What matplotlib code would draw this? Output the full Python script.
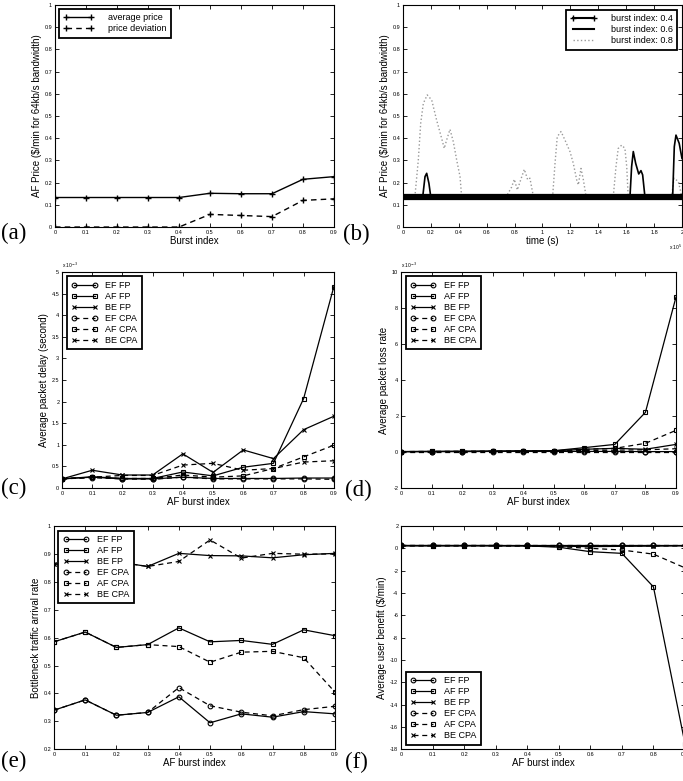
import matplotlib
matplotlib.use('Agg')
import matplotlib.pyplot as plt
from matplotlib.lines import Line2D
from matplotlib.ticker import MultipleLocator, FuncFormatter

plt.rcParams['font.family'] = ['Liberation Sans', 'DejaVu Sans']

# AF burst index (x axis of a, c, d, e, f)
burst = [0, 0.1, 0.2, 0.3, 0.4, 0.5, 0.6, 0.7, 0.8, 0.9]

# (a) AF price
avg_price = [0.133, 0.133, 0.133, 0.133, 0.133, 0.152, 0.150, 0.150, 0.215, 0.227]
price_dev = [0, 0, 0, 0, 0, 0.057, 0.052, 0.047, 0.120, 0.127]

# (b) AF price over time (time in units of 1e5 s)
t_04 = [0, 2.0]
p_04 = [0.135, 0.135]
t_06 = [0, 0.141, 0.158, 0.170, 0.186, 0.200, 1.627, 1.639, 1.651, 1.668, 1.690, 1.706,
        1.718, 1.735, 1.933, 1.945, 1.957, 1.980, 2.0]
p_06 = [0.133, 0.133, 0.227, 0.242, 0.197, 0.133, 0.133, 0.272, 0.340, 0.287, 0.239, 0.254,
        0.235, 0.133, 0.133, 0.362, 0.414, 0.377, 0.309]
t_08 = [0, 0.086, 0.110, 0.127, 0.146, 0.174, 0.206, 0.241, 0.277, 0.296, 0.313, 0.337,
        0.361, 0.385, 0.409, 0.420,
        0.743, 0.779, 0.798, 0.820, 0.844, 0.870, 0.894, 0.910, 0.934,
        1.073, 1.090, 1.106, 1.133, 1.161, 1.197, 1.221, 1.245, 1.257, 1.276, 1.293, 1.312,
        1.508, 1.527, 1.543, 1.568, 1.591, 1.604, 1.614,
        1.926, 1.943, 1.974, 1.998]
p_08 = [0.133, 0.14, 0.302, 0.467, 0.557, 0.595, 0.572, 0.482, 0.400, 0.354, 0.392, 0.440,
        0.384, 0.302, 0.227, 0.14,
        0.14, 0.180, 0.215, 0.167, 0.213, 0.260, 0.213, 0.220, 0.14,
        0.14, 0.287, 0.407, 0.430, 0.392, 0.340, 0.287, 0.213, 0.190, 0.264, 0.213, 0.14,
        0.14, 0.272, 0.354, 0.369, 0.354, 0.272, 0.14,
        0.14, 0.220, 0.205, 0.14]

# (c) average packet delay (x 1e-3 s)
delay_ef_fp = [0.21, 0.25, 0.21, 0.21, 0.25, 0.22, 0.22, 0.22, 0.23, 0.23]
delay_af_fp = [0.21, 0.26, 0.22, 0.22, 0.37, 0.28, 0.48, 0.57, 2.07, 4.66]
delay_be_fp = [0.21, 0.41, 0.30, 0.30, 0.79, 0.36, 0.88, 0.68, 1.35, 1.66]
delay_ef_cpa = [0.21, 0.24, 0.21, 0.20, 0.25, 0.21, 0.21, 0.21, 0.21, 0.20]
delay_af_cpa = [0.21, 0.25, 0.22, 0.22, 0.30, 0.25, 0.28, 0.45, 0.72, 0.99]
delay_be_cpa = [0.21, 0.25, 0.29, 0.29, 0.53, 0.57, 0.41, 0.45, 0.60, 0.63]

# (d) average packet loss rate (x 1e-3)
loss_ef_fp = [0.02, 0.02, 0.02, 0.03, 0.03, 0.03, 0.03, 0.03, 0.02, 0.02]
loss_af_fp = [0.02, 0.03, 0.04, 0.05, 0.06, 0.07, 0.24, 0.42, 2.20, 8.60]
loss_be_fp = [0.02, 0.03, 0.03, 0.04, 0.05, 0.06, 0.15, 0.20, 0.15, 0.42]
loss_ef_cpa = [0.02, 0.02, 0.02, 0.02, 0.02, 0.02, 0.02, 0.02, 0.02, 0.02]
loss_af_cpa = [0.02, 0.03, 0.03, 0.04, 0.05, 0.06, 0.15, 0.20, 0.48, 1.20]
loss_be_cpa = [0.02, 0.02, 0.03, 0.03, 0.04, 0.05, 0.08, 0.10, 0.12, 0.18]

# (e) bottleneck traffic arrival rate
rate_ef_fp = [0.340, 0.377, 0.322, 0.332, 0.388, 0.295, 0.327, 0.315, 0.335, 0.327]
rate_af_fp = [0.585, 0.620, 0.565, 0.575, 0.635, 0.585, 0.590, 0.576, 0.628, 0.607]
rate_be_fp = [0.863, 0.870, 0.872, 0.855, 0.902, 0.894, 0.893, 0.886, 0.897, 0.902]
rate_ef_cpa = [0.340, 0.377, 0.322, 0.332, 0.421, 0.356, 0.333, 0.320, 0.342, 0.354]
rate_af_cpa = [0.585, 0.620, 0.565, 0.575, 0.568, 0.512, 0.548, 0.551, 0.528, 0.405]
rate_be_cpa = [0.863, 0.870, 0.872, 0.855, 0.873, 0.950, 0.885, 0.902, 0.899, 0.900]

# (f) average user benefit ($/min)
ben_ef_fp = [0.30, 0.30, 0.30, 0.30, 0.30, 0.30, 0.30, 0.30, 0.30, 0.30]
ben_af_fp = [0.25, 0.25, 0.25, 0.25, 0.22, 0.10, -0.30, -0.45, -3.45, -17.5]
ben_be_fp = [0.22, 0.22, 0.22, 0.22, 0.22, 0.20, 0.15, 0.18, 0.20, 0.22]
ben_ef_cpa = [0.30, 0.30, 0.30, 0.30, 0.30, 0.30, 0.30, 0.30, 0.30, 0.30]
ben_af_cpa = [0.25, 0.25, 0.25, 0.25, 0.22, 0.15, 0.00, -0.15, -0.52, -1.75]
ben_be_cpa = [0.22, 0.22, 0.22, 0.22, 0.22, 0.20, 0.18, 0.20, 0.22, 0.22]

six_names = ['EF FP', 'AF FP', 'BE FP', 'EF CPA', 'AF CPA', 'BE CPA']
six_marks = ['o', 's', 'x', 'o', 's', 'x']
six_styles = ['-', '-', '-', '--', '--', '--']

fmt = FuncFormatter(lambda v, p: '%g' % round(v, 6))


def style_axes(ax, xlim, ylim, xstep, ystep):
    ax.set_xlim(*xlim)
    ax.set_ylim(*ylim)
    ax.xaxis.set_major_locator(MultipleLocator(xstep))
    ax.yaxis.set_major_locator(MultipleLocator(ystep))
    ax.xaxis.set_major_formatter(fmt)
    ax.yaxis.set_major_formatter(fmt)
    ax.tick_params(direction='in', top=True, right=True, length=3, width=0.6,
                   labelsize=4, pad=2)
    for s in ax.spines.values():
        s.set_linewidth(0.8)


def legend_box(ax, handles=None, **kw):
    opts = dict(fontsize=6.5, numpoints=2, handlelength=2.9, handletextpad=0.9,
                labelspacing=0.22, fancybox=False, framealpha=1,
                edgecolor='black', borderpad=0.5)
    opts.update(kw)
    if handles is None:
        leg = ax.legend(**opts)
    else:
        leg = ax.legend(handles=handles, **opts)
    leg.get_frame().set_linewidth(1.3)
    return leg


def six_lines(ax, series):
    for vals, name, m, ls in zip(series, six_names, six_marks, six_styles):
        ax.plot(burst, vals, linestyle=ls, marker=m, color='black', lw=0.9,
                markersize=3.4, markerfacecolor='none', markeredgewidth=0.8,
                dashes=(4, 3) if ls == '--' else (None, None), label=name)


fig = plt.figure(figsize=(6.83, 7.81), dpi=100)

# (a)
ax = fig.add_axes([0.0805, 0.7093, 0.4085, 0.2843])
ax.plot(burst, avg_price, '-+', color='black', lw=1.0, markersize=4.5, label='average price')
ax.plot(burst, price_dev, '--+', color='black', lw=1.0, markersize=4.5, dashes=(4, 3),
        label='price deviation')
style_axes(ax, (0, 0.9), (0, 1), 0.1, 0.1)
ax.set_xlabel('Burst index', fontsize=7, labelpad=1)
ax.set_ylabel('AF Price (\\$/min for 64kb/s bandwidth)', fontsize=7, labelpad=2)
legend_box(ax, loc='upper left', borderaxespad=0.4, handlelength=3.4, handletextpad=1.6)

# (b)
ax = fig.add_axes([0.590, 0.7093, 0.4085, 0.2843])
ax.plot(t_08, p_08, linestyle=':', color='0.6', lw=1.0)
ax.plot(t_06, p_06, '-', color='black', lw=1.2)
ax.plot(t_04, p_04, '-', color='black', lw=4.5, solid_capstyle='butt')
style_axes(ax, (0, 2), (0, 1), 0.2, 0.1)
ax.set_xlabel('time (s)', fontsize=7, labelpad=1)
ax.set_ylabel('AF Price (\\$/min for 64kb/s bandwidth)', fontsize=7, labelpad=2)
ax.text(1.0, -0.07, 'x 10$^{5}$', transform=ax.transAxes, ha='right', va='top', fontsize=3.5)
hb = [Line2D([], [], color='black', lw=1.5, marker='+', markersize=4.5, label='burst index: 0.4'),
      Line2D([], [], color='black', lw=1.5, label='burst index: 0.6'),
      Line2D([], [], color='0.6', lw=1.0, linestyle=':', label='burst index: 0.8')]
legend_box(ax, handles=hb, loc='upper right', borderaxespad=0.5, handletextpad=1.6)

# (c)
ax = fig.add_axes([0.0908, 0.3752, 0.398, 0.2766])
six_lines(ax, [delay_ef_fp, delay_af_fp, delay_be_fp, delay_ef_cpa, delay_af_cpa, delay_be_cpa])
style_axes(ax, (0, 0.9), (0, 5), 0.1, 0.5)
ax.set_xlabel('AF burst index', fontsize=7, labelpad=1)
ax.set_ylabel('Average packet delay (second)', fontsize=7, labelpad=2)
ax.text(0.0, 1.01, 'x 10$^{-3}$', transform=ax.transAxes, ha='left', va='bottom', fontsize=3.5)
legend_box(ax, loc='upper left', borderaxespad=0.5)

# (d)
ax = fig.add_axes([0.5871, 0.3752, 0.4026, 0.2766])
six_lines(ax, [loss_ef_fp, loss_af_fp, loss_be_fp, loss_ef_cpa, loss_af_cpa, loss_be_cpa])
style_axes(ax, (0, 0.9), (-2, 10), 0.1, 2)
ax.set_xlabel('AF burst index', fontsize=7, labelpad=1)
ax.set_ylabel('Average packet loss rate', fontsize=7, labelpad=2)
ax.text(0.0, 1.01, 'x 10$^{-3}$', transform=ax.transAxes, ha='left', va='bottom', fontsize=3.5)
legend_box(ax, loc='upper left', borderaxespad=0.5)

# (e)
ax = fig.add_axes([0.079, 0.0406, 0.4114, 0.2859])
six_lines(ax, [rate_ef_fp, rate_af_fp, rate_be_fp, rate_ef_cpa, rate_af_cpa, rate_be_cpa])
style_axes(ax, (0, 0.9), (0.2, 1), 0.1, 0.1)
ax.set_xlabel('AF burst index', fontsize=7, labelpad=1)
ax.set_ylabel('Bottleneck traffic arrival rate', fontsize=7, labelpad=2)
legend_box(ax, loc='upper left', borderaxespad=0.5)

# (f) -- right edge runs past the figure, as in the original
ax = fig.add_axes([0.5871, 0.0406, 0.4158, 0.2859])
six_lines(ax, [ben_ef_fp, ben_af_fp, ben_be_fp, ben_ef_cpa, ben_af_cpa, ben_be_cpa])
style_axes(ax, (0, 0.9), (-18, 2), 0.1, 2)
ax.set_xlabel('AF burst index', fontsize=7, labelpad=1)
ax.set_ylabel('Average user benefit (\\$/min)', fontsize=7, labelpad=2)
legend_box(ax, loc='lower left', borderaxespad=0.5)

# panel letters
for lab, x, y in [('(a)', 0.002, 0.7016), ('(b)', 0.502, 0.700),
                  ('(c)', 0.002, 0.374), ('(d)', 0.505, 0.3726),
                  ('(e)', 0.002, 0.0256), ('(f)', 0.505, 0.0243)]:
    fig.text(x, y, lab, fontsize=16.5, family='Liberation Serif', ha='left', va='center')

fig.savefig('out.png', dpi=100)
